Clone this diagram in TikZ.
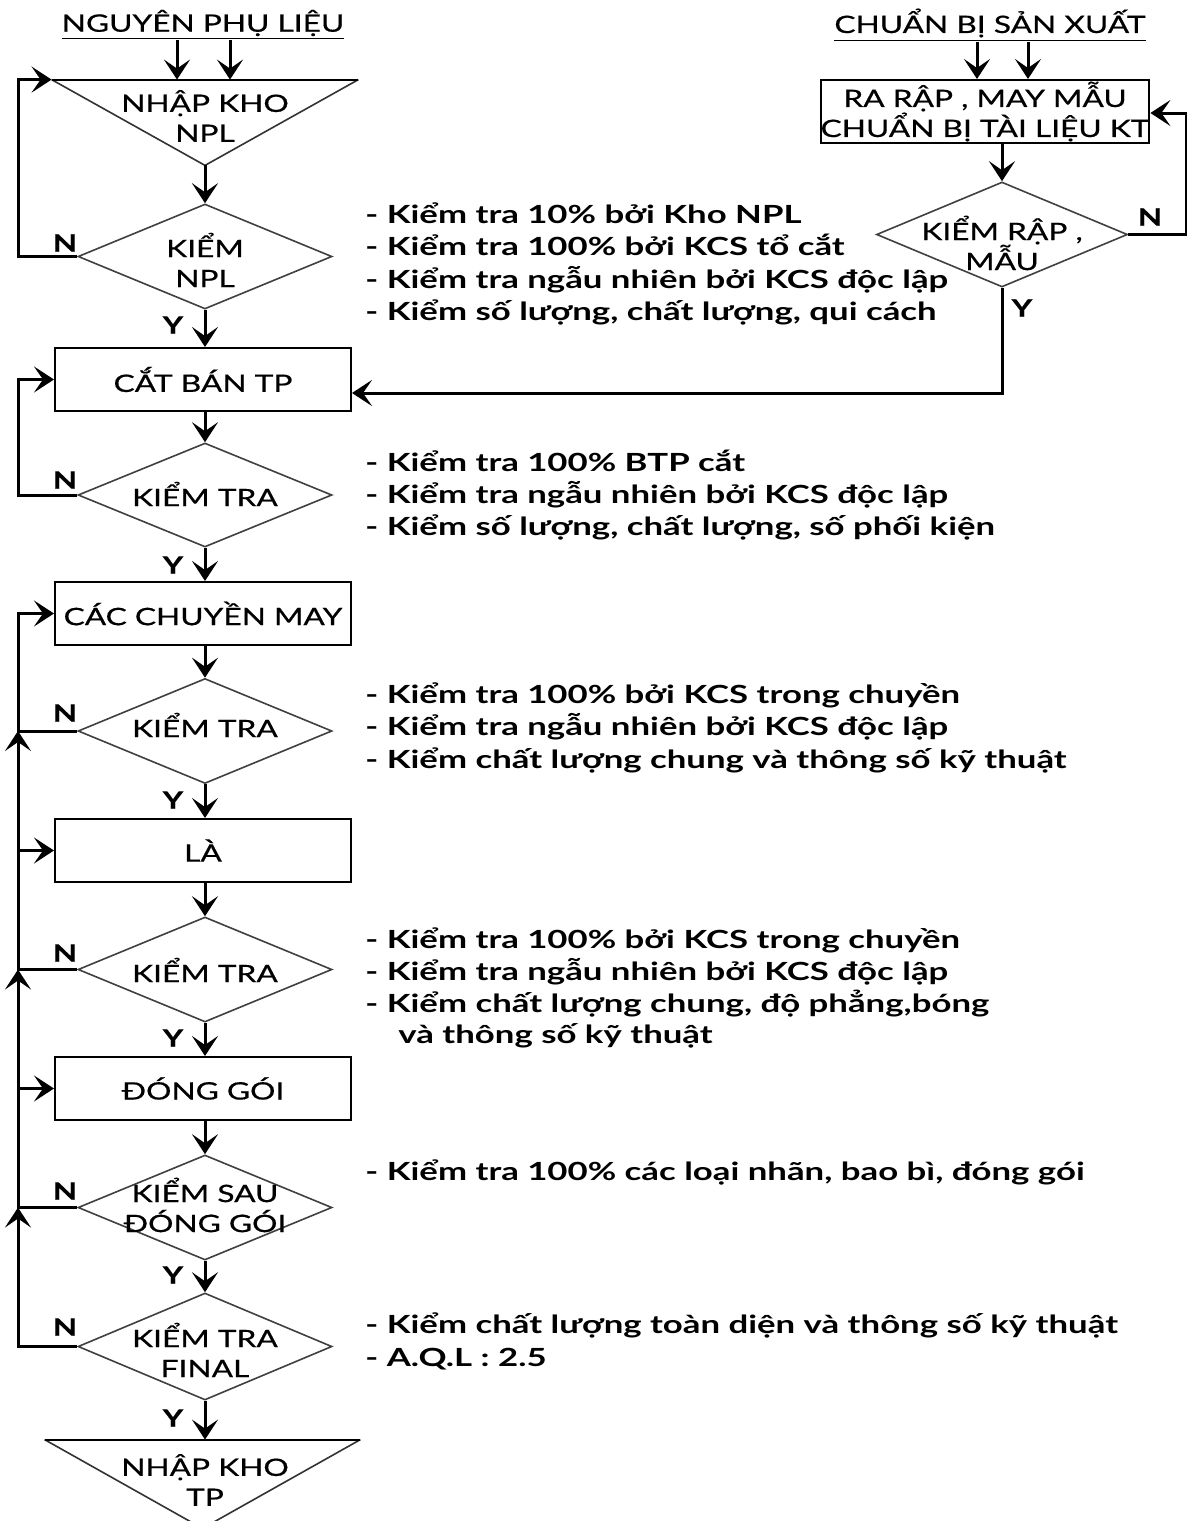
\documentclass[tikz,border=0pt]{standalone}
\usepackage{fontspec}
\setmainfont[FakeStretch=1.32,FakeBold=0.6]{Lato}
\newfontfamily\bulfamily[FakeStretch=1.39]{Lato}
\usetikzlibrary{shapes.geometric,arrows.meta,calc}
\newcommand{\nodefnt}{\fontsize{12}{15}\selectfont}
\newcommand{\bulfnt}{\bulfamily\fontsize{12.5}{16}\selectfont\bfseries}
\begin{document}
\begin{tikzpicture}[x=0.5pt,y=-0.5pt,
  box/.style={draw,line width=1pt,minimum width=148pt,minimum height=31.5pt,inner sep=0pt,font=\nodefnt,align=center},
  dia/.style={draw=black!75,line width=0.8pt,diamond,minimum width=127pt,minimum height=52.5pt,inner sep=0pt},
  tri/.style={inner sep=0pt},
  lbl/.style={font=\nodefnt,align=center,inner sep=0pt},
  yn/.style={font=\nodefnt\bfseries,inner sep=0pt},
  bul/.style={font=\bulfnt,anchor=base west,inner sep=0pt},
  arr/.style={line width=1.5pt,-{Stealth[length=10pt,width=13pt,inset=4.5pt]}},
  ln/.style={line width=1.2pt}]
\useasboundingbox (0,0) rectangle (1187,1521);
\fill[white] (0,0) rectangle (1187,1521);
\coordinate (L) at (18,0);
\coordinate (R) at (1186,0);
% titles
\node[lbl] (t1) at (203,25) {\underline{NGUYÊN PHỤ LIỆU}};
\node[lbl] (t2) at (990,25) {\underline{CHUẨN BỊ SẢN XUẤT}};
% left column
\node[tri,minimum width=153pt,minimum height=42.5pt] (nk1) at (205,122.5) {};
\draw[line width=0.8pt,draw=black!80] (nk1.north west) -- (nk1.south) -- (nk1.north east);
\draw[line width=1.1pt] (nk1.north west) -- (nk1.north east);
\node[lbl] (nk1t) at (205,116) {NHẬP KHO\\NPL};
\node[dia] (d1) at (205,256.5) {};
\node[lbl] (d1t) at (205,260) {KIỂM\\NPL};
\node[box] (b1) at (203,379.5) {CẮT BÁN TP};
\node[dia,minimum height=52pt] (d2) at (205,495) {};
\node[lbl] (d2t) at (205,494) {KIỂM TRA};
\node[box] (b2) at (203,613.5) {CÁC CHUYỀN MAY};
\node[dia] (d3) at (205,731) {};
\node[lbl] (d3t) at (205,725) {KIỂM TRA};
\node[box] (b3) at (203,850.5) {LÀ};
\node[dia] (d4) at (205,969.5) {};
\node[lbl] (d4t) at (205,970) {KIỂM TRA};
\node[box] (b4) at (203,1088.5) {ĐÓNG GÓI};
\node[dia] (d5) at (205,1207.5) {};
\node[lbl] (d5t) at (205,1205) {KIỂM SAU\\ĐÓNG GÓI};
\node[dia,minimum height=53.5pt] (d6) at (205,1346.5) {};
\node[lbl] (d6t) at (205,1350) {KIỂM TRA\\FINAL};
\node[tri,minimum width=157.5pt,minimum height=44pt] (nk2) at (202.5,1484) {};
\draw[line width=0.8pt,draw=black!80] (nk2.north west) -- (nk2.south) -- (nk2.north east);
\draw[line width=1.1pt] (nk2.north west) -- (nk2.north east);
\node[lbl] (nk2t) at (205,1480) {NHẬP KHO\\TP};
% right column
\node[box,minimum width=163pt] (b0) at (985,111.5) {RA RẬP , MAY MẪU\\CHUẨN BỊ TÀI LIỆU KT};
\node[dia,minimum width=125.5pt] (d0) at (1002,234.5) {};
\node[lbl] (d0t) at (1002,243) {KIỂM RẬP ,\\MẪU};
% main flow arrows
\draw[arr] ($(t1.south)+(-26,0)$) -- ($(nk1.north)+(-28,0)$);
\draw[arr] ($(t1.south)+(27,0)$) -- ($(nk1.north)+(25,0)$);
\draw[arr] ($(t2.south)+(-13,0)$) -- ($(t2.south |- b0.north)+(-13,0)$);
\draw[arr] ($(t2.south)+(38,0)$) -- ($(t2.south |- b0.north)+(38,0)$);
\draw[arr] (nk1.south) -- (d1.north);
\draw[arr] (d1.south) -- (d1.south |- b1.north);
\draw[arr] (d1.south |- b1.south) -- (d2.north);
\draw[arr] (d2.south) -- (d2.south |- b2.north);
\draw[arr] (d2.south |- b2.south) -- (d3.north);
\draw[arr] (d3.south) -- (d3.south |- b3.north);
\draw[arr] (d3.south |- b3.south) -- (d4.north);
\draw[arr] (d4.south) -- (d4.south |- b4.north);
\draw[arr] (d4.south |- b4.south) -- (d5.north);
\draw[arr] (d5.south) -- (d6.north);
\draw[arr] (d6.south) -- (d6.south |- nk2.north);
\draw[arr] (d0.north |- b0.south) -- (d0.north);
% loops
\draw[arr] (d1.west) -| (L |- nk1.north) -- (nk1.north west);
\draw[arr] (d2.west) -| (L |- b1.west) -- (b1.west);
\draw[arr] (d6.west) -| (L |- d5.west);
\draw[arr] (d5.west) -| (L |- d4.west);
\draw[arr] (d4.west) -| (L |- d3.west);
\draw[arr] (d3.west) -| (L |- b2.west) -- (b2.west);
\draw[arr] (L |- b3.west) -- (b3.west);
\draw[arr] (L |- b4.west) -- (b4.west);
\draw[arr] (d0.east) -| (R |- {(0,113)}) -- ({(0,113)} -| b0.east);
\draw[arr] (d0.south) |- ({(0,393)} -| b1.east);
% Y / N labels
\node[yn] (n1) at (65,243) {N};
\node[yn] (n2) at (65,480) {N};
\node[yn] (n3) at (65,713) {N};
\node[yn] (n4) at (65,953) {N};
\node[yn] (n5) at (65,1191) {N};
\node[yn] (n6) at (65,1327) {N};
\node[yn] (n0) at (1150,217) {N};
\node[yn] (y1) at (173,325) {Y};
\node[yn] (y2) at (173,565) {Y};
\node[yn] (y3) at (173,800) {Y};
\node[yn] (y4) at (173,1038) {Y};
\node[yn] (y5) at (173,1275) {Y};
\node[yn] (y6) at (173,1418) {Y};
\node[yn] (y0) at (1022,308) {Y};
% bullet texts
\node[bul] (g1a) at (365,223) {- Kiểm tra 10\% bởi Kho NPL};
\node[bul] (g1b) at (365,255) {- Kiểm tra 100\% bởi KCS tổ cắt};
\node[bul] (g1c) at (365,288) {- Kiểm tra ngẫu nhiên bởi KCS độc lập};
\node[bul] (g1d) at (365,320) {- Kiểm số lượng, chất lượng, qui cách};
\node[bul] (g2a) at (365,471) {- Kiểm tra 100\% BTP cắt};
\node[bul] (g2b) at (365,503) {- Kiểm tra ngẫu nhiên bởi KCS độc lập};
\node[bul] (g2c) at (365,535) {- Kiểm số lượng, chất lượng, số phối kiện};
\node[bul] (g3a) at (365,703) {- Kiểm tra 100\% bởi KCS trong chuyền};
\node[bul] (g3b) at (365,735) {- Kiểm tra ngẫu nhiên bởi KCS độc lập};
\node[bul] (g3c) at (365,768) {- Kiểm chất lượng chung và thông số kỹ thuật};
\node[bul] (g4a) at (365,948) {- Kiểm tra 100\% bởi KCS trong chuyền};
\node[bul] (g4b) at (365,980) {- Kiểm tra ngẫu nhiên bởi KCS độc lập};
\node[bul] (g4c) at (365,1012) {- Kiểm chất lượng chung, độ phẳng,bóng};
\node[bul] (g4d) at (398,1043) {và thông số kỹ thuật};
\node[bul] (g5a) at (365,1180) {- Kiểm tra 100\% các loại nhãn, bao bì, đóng gói};
\node[bul] (g6a) at (365,1333) {- Kiểm chất lượng toàn diện và thông số kỹ thuật};
\node[bul] (g6b) at (365,1366) {- A.Q.L : 2.5};
\end{tikzpicture}
\end{document}
